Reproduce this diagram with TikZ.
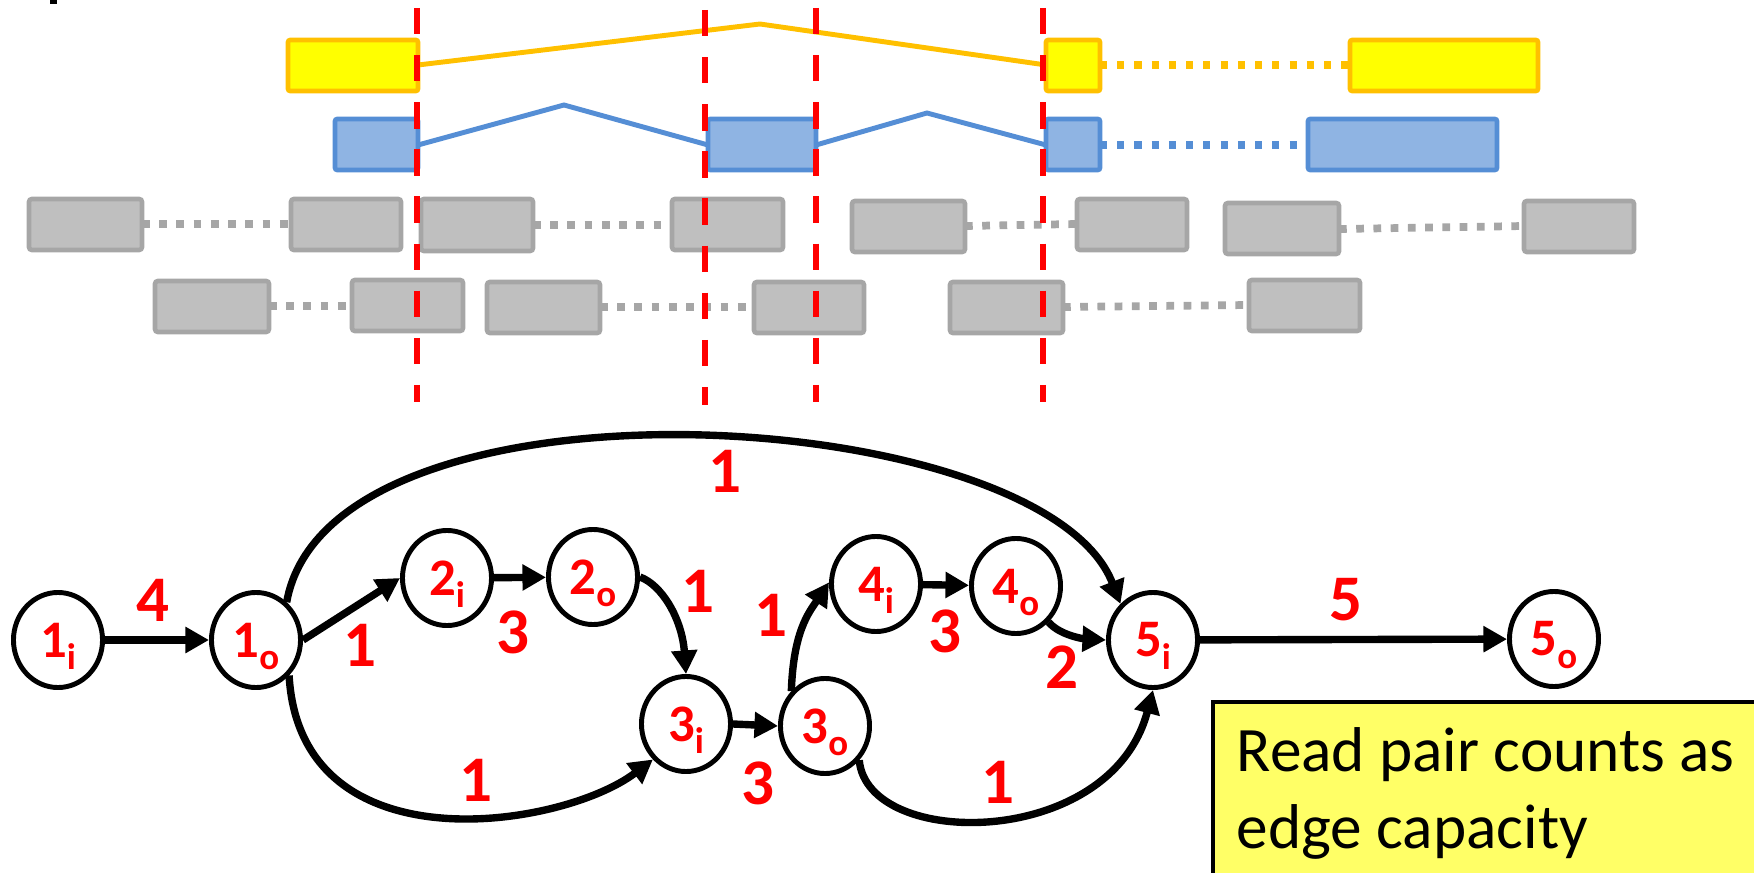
\documentclass[tikz,border=0pt]{standalone}
\usepackage{fontspec}
\setmainfont{Carlito}
\usetikzlibrary{arrows.meta,shapes.geometric}

\definecolor{goldline}{RGB}{255,192,0}
\definecolor{goldfill}{RGB}{255,255,0}
\definecolor{blueline}{RGB}{85,142,213}
\definecolor{bluefill}{RGB}{143,180,227}
\definecolor{greyline}{RGB}{166,166,166}
\definecolor{greyfill}{RGB}{191,191,191}
\definecolor{notefill}{RGB}{255,255,102}
\definecolor{cutred}{RGB}{255,0,0}

% vertex label: large digit with a small lowered letter
\newcommand\vlab[2]{\bfseries\fontsize{15pt}{15pt}\selectfont #1\raisebox{-3.6pt}[0pt][0pt]{\fontsize{10.5pt}{10.5pt}\selectfont #2}}

\begin{document}
\begin{tikzpicture}[x=0.01cm,y=-0.01cm,
  goldbox/.style={draw=goldline,fill=goldfill,line width=1.3pt,rounded corners=0.6pt},
  bluebox/.style={draw=blueline,fill=bluefill,line width=1.3pt,rounded corners=0.6pt},
  greybox/.style={draw=greyline,fill=greyfill,line width=1.3pt,rounded corners=0.8pt},
  goldlink/.style={draw=goldline,line width=1.4pt},
  bluelink/.style={draw=blueline,line width=1.4pt},
  golddots/.style={draw=goldline,line width=2pt,dash pattern=on 2pt off 2.9pt},
  bluedots/.style={draw=blueline,line width=2pt,dash pattern=on 2pt off 2.9pt},
  greydots/.style={draw=greyline,line width=2.2pt,dash pattern=on 2.2pt off 2.7pt},
  cutline/.style={draw=cutred,line width=1.7pt,dash pattern=on 7.5pt off 5.9pt},
  vert/.style={draw,ellipse,line width=1.4pt,minimum width=0.89cm,minimum height=0.95cm,inner sep=0pt,text=cutred},
  flow/.style={line width=2.1pt,-{Triangle[length=6.7pt,width=7.1pt]}},
  capnum/.style={text=cutred,font=\bfseries\fontsize{18.5pt}{18.5pt}\selectfont,inner sep=0pt},
  notetext/.style={font=\fontsize{18pt}{21.9pt}\selectfont,inner sep=0pt,anchor=base west}
]
\useasboundingbox (0,0) rectangle (1754,873);

% clipped glyph at the top left
\fill (50,0) rectangle (57,4);

% ---- read alignments ----
% yellow read
\draw[goldlink] (418,65) -- (760,24) -- (1046,65);
\draw[golddots] (1100,65) -- (1350,65);
\draw[goldbox] (288,40) rectangle (418,91);
\draw[goldbox] (1046,40) rectangle (1100,91);
\draw[goldbox] (1350,40) rectangle (1538,91);

% blue read
\draw[bluelink] (418,145) -- (564,105) -- (708,145);
\draw[bluelink] (816,145) -- (927,113) -- (1046,145);
\draw[bluedots] (1100,145) -- (1300,145);
\draw[bluebox] (335,119) rectangle (418,170);
\draw[bluebox] (708,119) rectangle (816,170);
\draw[bluebox] (1046,119) rectangle (1100,170);
\draw[bluebox] (1308,119) rectangle (1497,170);

% grey read pairs, first row
\draw[greydots] (142,224) -- (291,224);
\draw[greydots] (533,225) -- (672,225);
\draw[greydots] (965,226) -- (1077,224);
\draw[greydots] (1339,229) -- (1524,226);
\draw[greybox] (29,199) rectangle (142,250);
\draw[greybox] (291,199) rectangle (401,250);
\draw[greybox] (421,199) rectangle (533,251);
\draw[greybox] (672,199) rectangle (783,250);
\draw[greybox] (852,201) rectangle (965,252);
\draw[greybox] (1077,199) rectangle (1187,250);
\draw[greybox] (1225,203) rectangle (1339,254);
\draw[greybox] (1524,201) rectangle (1634,252);

% grey read pairs, second row
\draw[greydots] (269,306) -- (352,306);
\draw[greydots] (600,307) -- (754,307);
\draw[greydots] (1063,307) -- (1249,305);
\draw[greybox] (155,281) rectangle (269,332);
\draw[greybox] (352,280) rectangle (463,331);
\draw[greybox] (487,282) rectangle (600,333);
\draw[greybox] (754,282) rectangle (864,333);
\draw[greybox] (950,282) rectangle (1063,333);
\draw[greybox] (1249,280) rectangle (1360,331);

% breakpoints
\draw[cutline] (417,8) -- (417,402);
\draw[cutline] (705,10) -- (705,405);
\draw[cutline] (816,8) -- (816,402);
\draw[cutline] (1043,8) -- (1043,402);

% ---- flow graph ----
\node[vert] (n1i) at (58,640) {\vlab{1}{i}};
\node[vert] (n1o) at (256,640) {\vlab{1}{o}};
\node[vert] (n2i) at (447,578) {\vlab{2}{i}};
\node[vert] (n2o) at (593,577) {\vlab{2}{o}};
\node[vert] (n3i) at (686,724) {\vlab{3}{i}};
\node[vert] (n3o) at (825,726) {\vlab{3}{o}};
\node[vert] (n4i) at (876,584) {\vlab{4}{i}};
\node[vert] (n4o) at (1016,586) {\vlab{4}{o}};
\node[vert] (n5i) at (1153,640) {\vlab{5}{i}};
\node[vert] (n5o) at (1554,639) {\vlab{5}{o}};

\draw[flow] (n1i) -- (n1o);
\draw[flow] (n1o.east) -- (n2i.west);
\draw[flow] (n2i) -- (n2o);
\draw[flow] (n2o.east) .. controls +(22,8) and +(-4,-55) .. (n3i.north);
\draw[flow] (n1o.51) .. controls +(43,-241) and +(-78,-201) .. (n5i.132);
\draw[flow] (n1o.-47) .. controls +(11,194) and +(-91,69) .. (n3i.-133);
\draw[flow] (n3i.east) -- (n3o.west);
\draw[flow] (n3o.134) .. controls +(2,-60) and +(-20,30) .. (n4i.178);
\draw[flow] (n4i) -- (n4o);
\draw[flow] (n4o.-48) .. controls +(12,14) and +(-20,-1) .. (n5i.180);
\draw[flow] (n3o.-45) .. controls +(8,90) and +(-42,160) .. (n5i.south);
\draw[flow] (n5i) -- (n5o);

% capacities
\node[capnum] (c1) at (153,600) {4};
\node[capnum] (c2) at (360,645) {1};
\node[capnum] (c3) at (513,632) {3};
\node[capnum] (c4) at (725,471) {1};
\node[capnum] (c5) at (698,591) {1};
\node[capnum] (c6) at (476,780) {1};
\node[capnum] (c7) at (758,783) {3};
\node[capnum] (c8) at (771,615) {1};
\node[capnum] (c9) at (945,631) {3};
\node[capnum] (c10) at (1062,667) {2};
\node[capnum] (c11) at (998,782) {1};
\node[capnum] (c12) at (1346,600) {5};

% note
\draw[line width=1.4pt,fill=notefill] (1213,702) rectangle (1775,895);
\node[notetext] (note1) at (1236,771) {Read pair counts as};
\node[notetext] (note2) at (1236,848) {edge capacity};
\end{tikzpicture}
\end{document}
